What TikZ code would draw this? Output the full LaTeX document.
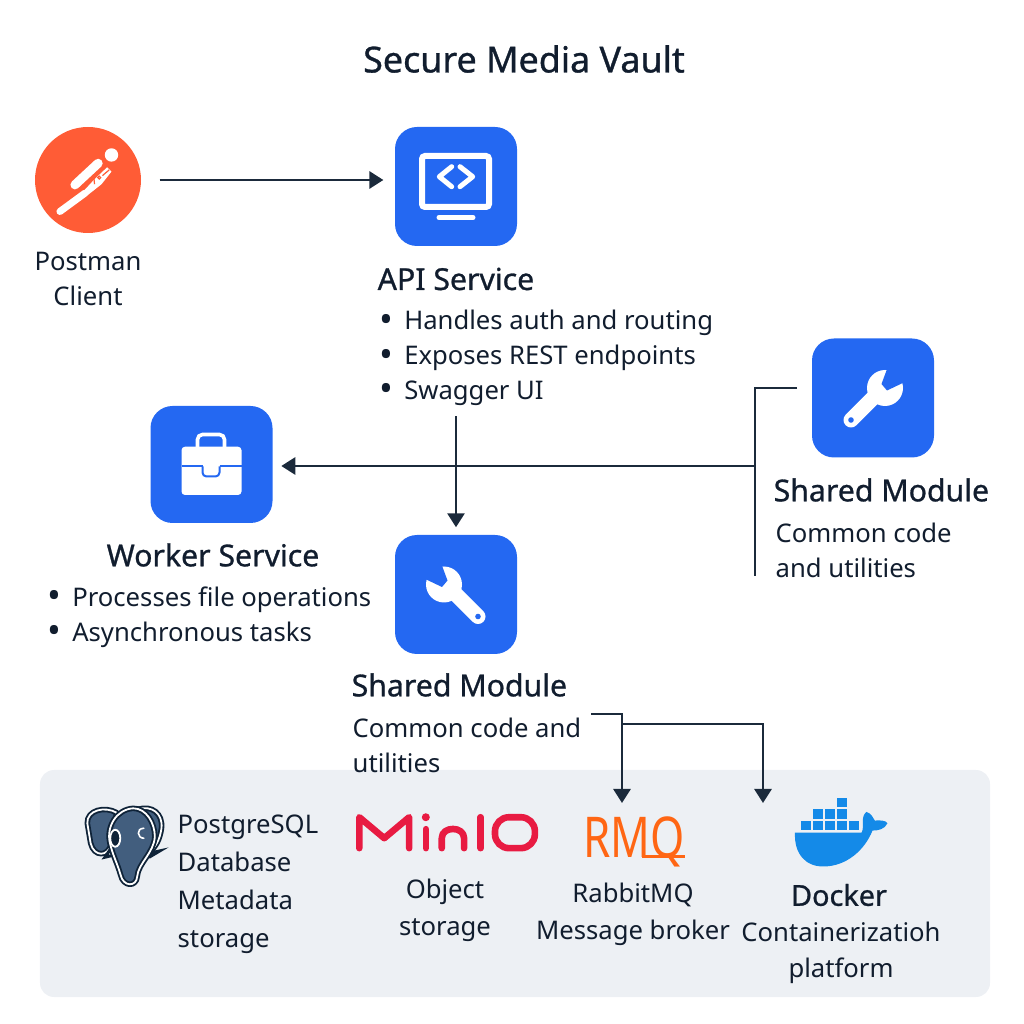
\documentclass[tikz,border=0pt]{standalone}
\usepackage{fontspec}
\setmainfont{Noto Sans}
\newfontfamily\medfont[FakeBold=0.9]{Noto Sans}
\usetikzlibrary{arrows.meta,positioning,calc}
\definecolor{vblue}{RGB}{36,104,242}
\definecolor{vink}{RGB}{17,29,46}
\definecolor{vline}{RGB}{27,42,59}
\definecolor{vorange}{RGB}{255,92,54}
\definecolor{vpanel}{RGB}{237,240,244}
\definecolor{vred}{RGB}{232,27,66}
\definecolor{vrmq}{RGB}{255,102,20}
\definecolor{vdock}{RGB}{20,138,232}
\definecolor{velephant}{RGB}{66,94,126}
\definecolor{vdark}{RGB}{15,35,56}
\newcommand{\bul}[1]{\makebox[7pt][l]{\raisebox{-.7pt}{\fontsize{10.5}{10.5}\selectfont\textbullet}}#1}
\newcommand{\wrenchicon}{%
    \draw[white, line width=.15cm, line cap=round] (-.22,-.22) -- (.08,.08);
    \fill[white] (.12,.10) circle (.18);
    \fill[vblue] (.085,.14) -- (.17,.37) -- (.34,.17) -- (.14,.075) -- cycle;
    \fill[vblue] (-.22,-.22) circle (.028);
}

\begin{document}
\begin{tikzpicture}[
    iconbox/.style={fill=vblue, rounded corners=.22cm, minimum width=1.22cm, minimum height=1.19cm,
                    inner sep=0pt},
    body/.style={font=\fontsize{7.3}{9.9}\selectfont, text=vink, inner sep=0pt, align=left},
    head/.style={font=\fontsize{8.6}{10}\medfont, text=vink, inner sep=0pt},
    arr/.style={-{Triangle[length=.14cm,width=.17cm]}, vline, line width=.028cm},
    plain/.style={vline, line width=.028cm},
    iconline/.style={white, line width=.05cm, line cap=round, line join=round}
]
\useasboundingbox (0,0) rectangle (10.24,10.24);

% Panel
\node[fill=vpanel, rounded corners=.14cm, minimum width=9.5cm, minimum height=2.27cm, inner sep=0pt]
    (panel) at (5.15,1.405) {};

% Title
\node[font=\fontsize{10.2}{12}\medfont, text=vink, inner sep=0pt] (title) at (5.24,9.65) {Secure Media Vault};

% Postman
\node[circle, fill=vorange, minimum size=1.06cm, inner sep=0pt] (postman) at (.88,8.44) {};
\begin{scope}[shift={(.30,8.89)}, x=.00333cm, y=-.00333cm]
    \fill[white] (245,60) circle (.067cm);
    \draw[white, line width=.09cm, line cap=round] (135,150) -- (205,85);
    \draw[white, line width=.07cm, line cap=round] (90,230) -- (165,175);
    \fill[white] (155,175) -- (195,132) -- (232,97) -- (245,110) -- (215,148) -- (172,182) -- cycle;
    \draw[vorange, line width=.012cm] (192,128) -- (194,148) (208,128) circle (.015cm) (218,122) -- (238,105);
\end{scope}
\node[body, align=center] (postmanlabel) at (.88,7.45) {Postman\\Client};

% API service
\node[iconbox] (apibox) at (4.56,8.375) {};
\draw[white, line width=.06cm, rounded corners=.03cm] (4.22,8.17) rectangle (4.89,8.68);
\draw[iconline] (4.517,8.573) -- (4.393,8.473) -- (4.517,8.373);
\draw[iconline] (4.60,8.573) -- (4.727,8.473) -- (4.60,8.373);
\draw[iconline] (4.39,8.065) -- (4.73,8.065);
\node[head, anchor=west] (apititle) at (3.77,7.45) {API Service};
\node[body, anchor=west] (apilist) at (3.79,6.66) {\bul{Handles auth and routing}\\\bul{Exposes REST endpoints}\\\bul{Swagger UI}};

% Worker service
\node[iconbox, minimum height=1.17cm] (workerbox) at (2.115,5.595) {};
\begin{scope}[shift={(2.115,5.595)}]
    \draw[white, line width=.036cm, rounded corners=.05cm] (-.14,.17) -- (-.14,.30) -- (.13,.30) -- (.13,.17);
    \fill[white, rounded corners=.035cm] (-.30,-.305) rectangle (.30,.178);
    \draw[vblue, line width=.02cm] (-.30,-.02) -- (-.09,-.02) (.08,-.02) -- (.30,-.02);
    \draw[vblue, line width=.02cm, rounded corners=.04cm] (-.09,-.02) -- (-.09,-.12) -- (.08,-.12) -- (.08,-.02);
\end{scope}
\node[head] (workertitle) at (2.13,4.69) {Worker Service};
\node[body, anchor=west] (workerlist) at (.47,4.07) {\bul{Processes file operations}\\\bul{Asynchronous tasks}};

% Shared module, middle
\node[iconbox] (sharedmid) at (4.56,4.295) {};
\begin{scope}[shift={(4.56,4.295)}, xscale=-1]
    \wrenchicon
\end{scope}
\node[head, anchor=west] (sharedmidtitle) at (3.51,3.39) {Shared Module};
\node[body, anchor=west] (sharedmidtext) at (3.52,2.79) {Common code and\\utilities};

% Shared module, right
\node[iconbox] (sharedright) at (8.73,6.26) {};
\begin{scope}[shift={(8.73,6.26)}]
    \wrenchicon
\end{scope}
\node[head, anchor=west] (sharedrighttitle) at (7.73,5.34) {Shared Module};
\node[body, anchor=west] (sharedrighttext) at (7.75,4.74) {Common code\\and utilities};

% Postgres
\begin{scope}[shift={(.80,2.24)}, x=.00333cm, y=-.00333cm, elephant/.style={draw=vdark, line width=.055cm, fill=velephant,
        postaction={draw=white, line width=.018cm}, line join=round}]
    \path[elephant] (22,70) .. controls (20,30) and (75,18) .. (110,38) -- (95,130)
        .. controls (85,172) and (42,172) .. (32,130) -- cycle;
    \path[elephant] (175,28) .. controls (215,15) and (250,40) .. (245,85)
        .. controls (240,120) and (228,140) .. (208,158) -- cycle;
    \draw[vdark, line width=.03cm, line cap=round] (208,160) -- (240,153) -- (208,172);
    \draw[vdark, line width=.03cm, line cap=round] (90,150) -- (75,172) -- (105,165);
    \path[elephant] (160,25) .. controls (200,25) and (225,70) .. (225,110)
        .. controls (222,160) and (175,190) .. (172,230)
        .. controls (170,262) and (130,262) .. (122,225)
        .. controls (112,190) and (100,170) .. (90,130)
        .. controls (78,80) and (110,28) .. (160,25) -- cycle;
    \fill[vdark, draw=white, line width=.018cm] (106,115) ellipse (.05cm and .085cm);
    \draw[white, line width=.016cm, line cap=round] (192,85) .. controls (168,85) and (172,115) .. (192,115);
\end{scope}
\node[body, anchor=west, font=\fontsize{7.3}{10.8}\selectfont] (pglabel) at (1.77,1.395) {PostgreSQL\\Database\\Metadata\\storage};

% MinIO
\begin{scope}[shift={(.40,2.54)}, x=.00333cm, y=-.00333cm, vred, line width=.066cm, line cap=round, line join=round]
    \draw (960,235) -- (960,142) -- (1035,205) -- (1110,142) -- (1110,235);
    \draw (1160,178) -- (1160,235);
    \fill (1160,142) circle (.04cm);
    \draw (1208,235) -- (1208,205) .. controls (1208,168) and (1275,168) .. (1275,205) -- (1275,235);
    \draw (1325,142) -- (1325,235);
    \draw[rounded corners=.14cm] (1368,142) rectangle (1488,235);
\end{scope}
\node[body, align=center, font=\fontsize{7.3}{10.5}\selectfont] (miniolabel) at (4.45,1.14) {Object\\storage};

% RabbitMQ
\node[text=vrmq, inner sep=0pt, font=\fontsize{16}{18}\selectfont, xscale=.78] (rmqlogo) at (6.34,1.82) {RMQ};
\draw[vrmq, line width=.03cm] (6.42,1.67) -- (6.85,1.67);
\node[body, align=center, font=\fontsize{7.3}{10.5}\selectfont] (rmqlabel) at (6.33,1.10) {RabbitMQ\\Message broker};

% Docker
\begin{scope}[shift={(7.90,2.34)}, x=.00333cm, y=-.00333cm, vdock]
    \foreach \x in {33,69,105,141,177} {\fill (\x,92) rectangle ++(29,29);}
    \foreach \x in {69,105,141} {\fill (\x,57) rectangle ++(29,29);}
    \fill (141,23) rectangle ++(29,29);
    \fill (15,128) -- (215,128) .. controls (225,115) and (210,80) .. (230,66)
        .. controls (245,70) and (250,85) .. (255,92) .. controls (270,90) and (290,92) .. (293,100)
        .. controls (285,118) and (265,122) .. (248,122) .. controls (225,180) and (170,230) .. (100,230)
        .. controls (45,230) and (12,190) .. (15,128) -- cycle;
\end{scope}
\node[head, font=\fontsize{8.2}{10}\medfont] (dockertitle) at (8.39,1.29) {Docker};
\node[body, align=center, font=\fontsize{7.3}{10.3}\selectfont] (dockertext) at (8.41,.71) {Containerizatioh\\platform};

% Connectors
\coordinate (rightbus) at (7.55,6.36);
\coordinate (rightjoin) at (7.55,5.58);
\coordinate (rightend) at (7.55,4.48);
\coordinate (sharedout) at (5.91,3.10);
\coordinate (rmqin) at (6.22,2.21);
\coordinate (branch) at (6.22,3.00);
\coordinate (dockerin) at (7.63,2.21);

\draw[arr, shorten <=5.1pt, shorten >=3.1pt] (postman.east) -- (postman.east -| apibox.west);
\draw[arr, shorten <=2.8pt, shorten >=2pt] (apibox |- apilist.south) -- (sharedmid.north);
\draw[arr, shorten >=2.3pt] (rightjoin) -- (rightjoin -| workerbox.east);
\draw[plain, shorten <=4pt] (sharedright.west |- rightbus) -- (rightbus) -- (rightend);
\draw[arr] (sharedout) -| (rmqin);
\draw[arr] (branch) -| (dockerin);

\end{tikzpicture}
\end{document}
